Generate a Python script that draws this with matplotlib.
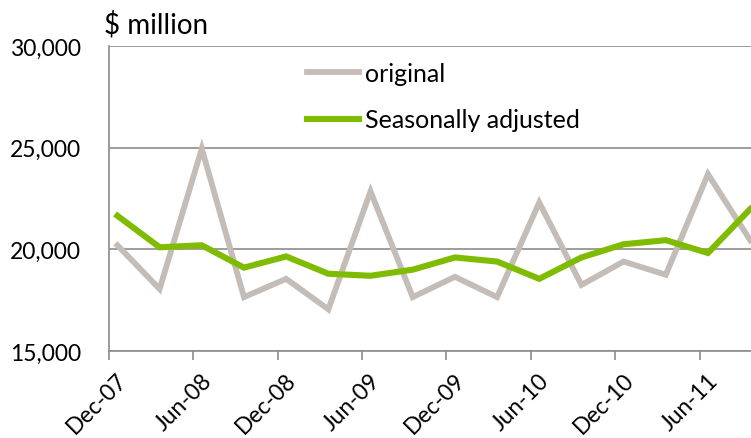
import numpy as np
import matplotlib
matplotlib.use("Agg")
import matplotlib.pyplot as plt

# quarterly values, $ million (Dec-07 .. Sep-11)
quarters = ["Dec-07", "Mar-08", "Jun-08", "Sep-08", "Dec-08", "Mar-09", "Jun-09", "Sep-09",
            "Dec-09", "Mar-10", "Jun-10", "Sep-10", "Dec-10", "Mar-11", "Jun-11", "Sep-11"]
original = [20200, 18050, 24950, 17650, 18550, 17050, 22850, 17650,
            18650, 17650, 22300, 18250, 19400, 18750, 23700, 20450]
seasonally_adjusted = [21650, 20100, 20200, 19100, 19650, 18800, 18700, 19000,
                       19600, 19400, 18550, 19600, 20250, 20450, 19820, 21980]
tick_labels = quarters[::2]
y_ticks = [15000, 20000, 25000, 30000]

GREY = "#C4BDB7"
GREEN = "#7FBC00"
AXIS = "#8C8C8C"

plt.rcParams["font.family"] = ["Lato", "DejaVu Sans"]

fig = plt.figure(figsize=(7.51, 4.39), dpi=100)
ax = fig.add_axes([109 / 751, 87 / 439, 642 / 751, 305 / 439])

x = np.arange(len(quarters))
ax.plot(x, original, color=GREY, lw=4.2, label="original", solid_joinstyle="miter")
ax.plot(x, seasonally_adjusted, color=GREEN, lw=4.4, label="Seasonally adjusted",
        solid_joinstyle="miter")

ax.set_ylim(15000, 30000)
ax.set_yticks(y_ticks)
ax.set_yticklabels([f"{v:,}" for v in y_ticks])
ax.set_xlim(-0.19, 15.02)

# Excel-style date axis: tick marks sit a little before the quarterly points.
# Marks on the major ticks, labels on minor ticks nudged right so the
# rotated text lines up like the original chart.
tick_pos = x[::2] - 0.2
ax.set_xticks(tick_pos)
ax.set_xticklabels([])
ax.set_xticks(tick_pos + 0.18, minor=True)
ax.set_xticklabels(tick_labels, minor=True, rotation=45, ha="right", va="top",
                   rotation_mode="anchor")

ax.grid(axis="y", color=AXIS, lw=1.2)
ax.set_axisbelow(True)
for side in ["top", "right"]:
    ax.spines[side].set_visible(False)
for side in ["left", "bottom"]:
    ax.spines[side].set_color(AXIS)
    ax.spines[side].set_linewidth(1.2)

ax.tick_params(axis="y", length=0, pad=20, labelsize=16.5, colors="black")
ax.tick_params(axis="x", which="major", length=6.5, width=1.2, color=AXIS,
               direction="out")
ax.tick_params(axis="x", which="minor", length=0, pad=13, labelsize=16.5)

fig.text(104 / 751, 1 - 11 / 439, "$ million", fontsize=20, va="top", ha="left")

ax.legend(loc="upper left", bbox_to_anchor=(294 / 751, 1 - 50 / 439),
          bbox_transform=fig.transFigure, frameon=False, fontsize=18,
          handlelength=2.1, handletextpad=0.25, labelspacing=0.95, borderpad=0)

fig.savefig("out.png", dpi=100)
